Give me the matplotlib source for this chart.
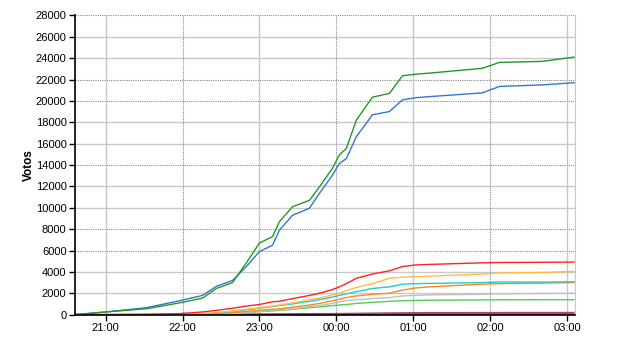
import matplotlib
matplotlib.use("Agg")
import matplotlib.pyplot as plt
from matplotlib.ticker import FuncFormatter

# hours since start of day (24 = 00:00, 27 = 03:00)
hours = [20.6, 21.0, 21.53, 21.96, 22.26, 22.44, 22.65, 22.83, 23.0, 23.17,
         23.26, 23.43, 23.65, 23.78, 23.95, 24.04, 24.13, 24.26, 24.47, 24.69,
         24.86, 25.03, 25.21, 25.9, 26.12, 26.68, 27.09]

green = [0, 250, 550, 1100, 1550, 2450, 3000, 4850, 6700, 7300,
         8700, 10100, 10700, 11950, 13700, 14950, 15550, 18200, 20350, 20700,
         22350, 22500, 22600, 23050, 23600, 23700, 24100]
blue = [0, 250, 650, 1300, 1800, 2650, 3200, 4500, 5900, 6500,
        7900, 9300, 9950, 11350, 13050, 14150, 14600, 16650, 18700, 19000,
        20100, 20300, 20400, 20750, 21350, 21500, 21700]
red = [0, 0, 30, 100, 250, 400, 600, 800, 950, 1200,
       1250, 1500, 1800, 2000, 2350, 2600, 2900, 3400, 3800, 4100,
       4500, 4650, 4700, 4850, 4880, 4900, 4920]
gold = [0, 0, 10, 50, 120, 200, 350, 500, 650, 800,
        900, 1100, 1400, 1550, 1850, 2000, 2250, 2550, 2900, 3400,
        3500, 3550, 3600, 3800, 3900, 3950, 4050]
cyan = [0, 0, 10, 40, 80, 150, 300, 450, 600, 750,
        850, 1000, 1250, 1400, 1650, 1800, 1950, 2150, 2450, 2600,
        2850, 2900, 2920, 3000, 3050, 3050, 3080]
orange = [0, 0, 5, 20, 50, 100, 200, 300, 400, 500,
          550, 700, 900, 1050, 1300, 1450, 1600, 1750, 1900, 2000,
          2300, 2500, 2600, 2850, 2900, 2950, 3000]
gray = [0, 0, 0, 10, 30, 60, 100, 200, 300, 400,
        450, 550, 750, 850, 1050, 1200, 1300, 1400, 1500, 1600,
        1750, 1800, 1850, 1900, 1950, 1980, 2000]
lgreen = [0, 0, 5, 10, 20, 50, 120, 200, 280, 350,
          400, 500, 650, 720, 850, 900, 950, 1050, 1150, 1250,
          1300, 1330, 1350, 1380, 1390, 1400, 1400]
purple = [0, 0, 0, 5, 10, 20, 30, 40, 50, 60,
          65, 75, 90, 95, 100, 105, 110, 120, 140, 160,
          170, 180, 185, 190, 195, 200, 200]
maroon = [0, 0, 0, 0, 5, 10, 15, 20, 25, 30,
          30, 35, 40, 40, 45, 45, 50, 50, 55, 55,
          60, 60, 60, 60, 60, 60, 60]

series = [
    (maroon, "#880022"),
    (purple, "#aa4477"),
    (lgreen, "#55cc55"),
    (gray, "#c0c0c0"),
    (orange, "#ff8811"),
    (cyan, "#22cccc"),
    (gold, "#ffbb44"),
    (red, "#ff2222"),
    (blue, "#3377cc"),
    (green, "#229922"),
]

yticks = list(range(0, 28001, 2000))
dotted_y = [6000, 8000, 14000, 20000, 22000, 28000]
xticks = [21, 22, 23, 24, 25, 26, 27]
dotted_x = [22, 24, 26]

plt.rcParams["font.family"] = ["Liberation Sans", "DejaVu Sans"]

fig = plt.figure(figsize=(6.4, 3.5), dpi=100)
ax = fig.add_axes([0.117, 0.101, 0.781, 0.855])

for y in yticks[1:]:
    if y in dotted_y:
        ax.axhline(y, color="#888888", lw=0.8, ls=(0, (1, 1)), zorder=0)
    else:
        ax.axhline(y, color="#c8c8c8", lw=1.0, zorder=0)
for x in xticks:
    if x in dotted_x:
        ax.axvline(x, color="#888888", lw=0.8, ls=(0, (1, 1)), zorder=0)
    else:
        ax.axvline(x, color="#c8c8c8", lw=1.0, zorder=0)

for vals, color in series:
    ax.plot(hours, vals, color=color, lw=1.0)

ax.set_xlim(20.6, 27.1)
ax.set_ylim(0, 28000)
ax.set_yticks(yticks)
ax.set_xticks(xticks)
ax.xaxis.set_major_formatter(FuncFormatter(lambda v, p: f"{int(round(v)) % 24:02d}:00"))
ax.tick_params(labelsize=8, length=4, width=1, direction="out", pad=2)
ax.set_ylabel("Votos", fontsize=8.5, fontweight="bold")
ax.yaxis.set_label_coords(-0.08, 0.5)

ax.spines["top"].set_visible(False)
ax.spines["right"].set_color("#c8c8c8")
ax.spines["left"].set_linewidth(1.2)
ax.spines["bottom"].set_linewidth(1.2)

fig.savefig("out.png", dpi=100)
